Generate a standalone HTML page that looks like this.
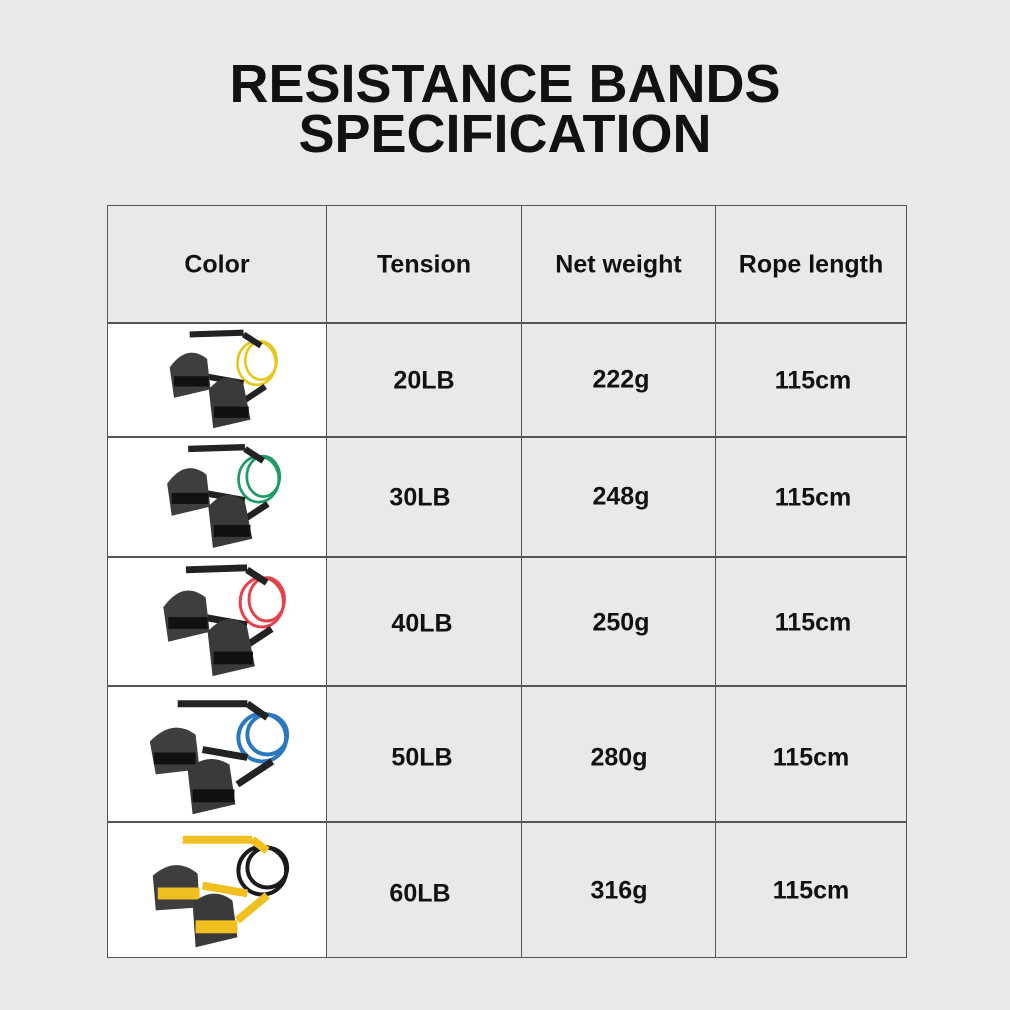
<!DOCTYPE html>
<html><head><meta charset="utf-8"><style>
body{margin:0;width:1010px;height:1010px;background:#e9e9e9;position:relative;overflow:hidden;font-family:"Liberation Sans",Arial,sans-serif;font-weight:bold;color:#111}
.t{position:absolute;left:0;width:1010px;text-align:center;font-size:54px;line-height:54px}
.h{position:absolute;background:#555}
.c{position:absolute;text-align:center;font-size:25px;transform:translateY(-50%)}
.img{position:absolute;left:108px;width:219px;background:#fff}
.img svg{width:100%;height:100%}
</style></head><body>
<div class="t" style="top:57px">RESISTANCE BANDS</div>
<div class="t" style="top:107px">SPECIFICATION</div>

<div class="img" style="top:324px;height:113px"><svg viewBox="0 0 220 130" preserveAspectRatio="xMidYMid meet"><g>
<line x1="78" y1="12" x2="140" y2="10" stroke="#222" stroke-width="7"/>
<ellipse cx="155" cy="45" rx="22" ry="25" fill="none" stroke="#e8c51a" stroke-width="3"/><ellipse cx="160" cy="42" rx="18" ry="22" fill="none" stroke="#e8c51a" stroke-width="3"/>
<path d="M140 12 L160 25 M95 60 L140 68 M130 95 L165 72" stroke="#222" stroke-width="7" fill="none"/>
<path d="M55 50 Q75 22 98 40 L102 75 L60 85 Z" fill="#3e3e3e"/><rect x="60" y="60" width="40" height="12" fill="#111"/>
<path d="M100 75 Q120 52 140 70 L148 110 L105 120 Z" fill="#3a3a3a"/><rect x="106" y="95" width="40" height="13" fill="#111"/></g></svg></div>

<div class="img" style="top:438px;height:119px"><svg viewBox="0 0 220 130" preserveAspectRatio="xMidYMid meet"><g>
<line x1="78" y1="12" x2="140" y2="10" stroke="#222" stroke-width="7"/>
<ellipse cx="155" cy="45" rx="22" ry="25" fill="none" stroke="#1e9a64" stroke-width="3"/><ellipse cx="160" cy="42" rx="18" ry="22" fill="none" stroke="#1e9a64" stroke-width="3"/>
<path d="M140 12 L160 25 M95 60 L140 68 M130 95 L165 72" stroke="#222" stroke-width="7" fill="none"/>
<path d="M55 50 Q75 22 98 40 L102 75 L60 85 Z" fill="#3e3e3e"/><rect x="60" y="60" width="40" height="12" fill="#111"/>
<path d="M100 75 Q120 52 140 70 L148 110 L105 120 Z" fill="#3a3a3a"/><rect x="106" y="95" width="40" height="13" fill="#111"/></g></svg></div>

<div class="img" style="top:558px;height:128px"><svg viewBox="0 0 220 130" preserveAspectRatio="xMidYMid meet"><g>
<line x1="78" y1="12" x2="140" y2="10" stroke="#222" stroke-width="7"/>
<ellipse cx="155" cy="45" rx="22" ry="25" fill="none" stroke="#e8404a" stroke-width="3"/><ellipse cx="160" cy="42" rx="18" ry="22" fill="none" stroke="#e8404a" stroke-width="3"/>
<path d="M140 12 L160 25 M95 60 L140 68 M130 95 L165 72" stroke="#222" stroke-width="7" fill="none"/>
<path d="M55 50 Q75 22 98 40 L102 75 L60 85 Z" fill="#3e3e3e"/><rect x="60" y="60" width="40" height="12" fill="#111"/>
<path d="M100 75 Q120 52 140 70 L148 110 L105 120 Z" fill="#3a3a3a"/><rect x="106" y="95" width="40" height="13" fill="#111"/></g></svg></div>

<div class="img" style="top:687px;height:135px"><svg viewBox="0 0 220 130" preserveAspectRatio="xMidYMid meet"><g>
<line x1="70" y1="14" x2="140" y2="14" stroke="#222" stroke-width="7"/>
<ellipse cx="155" cy="48" rx="24" ry="24" fill="none" stroke="#2a78c0" stroke-width="4"/><ellipse cx="160" cy="45" rx="20" ry="20" fill="none" stroke="#2a78c0" stroke-width="4"/>
<path d="M140 14 L160 28 M95 60 L140 68 M130 95 L165 72" stroke="#222" stroke-width="7" fill="none"/>
<path d="M42 52 Q65 28 88 45 L92 80 L48 85 Z" fill="#3e3e3e"/><rect x="46" y="63" width="42" height="12" fill="#111"/>
<path d="M80 80 Q100 62 122 75 L128 115 L85 125 Z" fill="#3a3a3a"/><rect x="85" y="100" width="42" height="13" fill="#111"/></g></svg></div>

<div class="img" style="top:823px;height:135px"><svg viewBox="0 0 220 130" preserveAspectRatio="xMidYMid meet"><g>
<line x1="75" y1="14" x2="145" y2="14" stroke="#f0c020" stroke-width="8"/>
<ellipse cx="155" cy="45" rx="24" ry="24" fill="none" stroke="#1a1a1a" stroke-width="4"/><ellipse cx="160" cy="42" rx="20" ry="20" fill="none" stroke="#1a1a1a" stroke-width="4"/>
<path d="M145 14 L160 25 M95 60 L140 68 M130 95 L160 70" stroke="#f0c020" stroke-width="8" fill="none"/>
<path d="M45 50 Q68 30 90 48 L92 82 L48 85 Z" fill="#3e3e3e"/><rect x="50" y="62" width="42" height="12" fill="#f0c020"/>
<path d="M85 78 Q105 60 125 75 L130 112 L88 122 Z" fill="#3a3a3a"/><rect x="88" y="95" width="42" height="13" fill="#f0c020"/></g></svg></div>

<!-- grid lines -->
<div class="h" style="left:107px;top:205px;width:800px;height:1px"></div>
<div class="h" style="left:107px;top:322px;width:800px;height:2px"></div>
<div class="h" style="left:107px;top:436px;width:800px;height:2px"></div>
<div class="h" style="left:107px;top:556px;width:800px;height:2px"></div>
<div class="h" style="left:107px;top:685px;width:800px;height:2px"></div>
<div class="h" style="left:107px;top:821px;width:800px;height:2px"></div>
<div class="h" style="left:107px;top:957px;width:800px;height:1px"></div>
<div class="h" style="left:107px;top:205px;width:1px;height:753px"></div>
<div class="h" style="left:326px;top:205px;width:1px;height:753px"></div>
<div class="h" style="left:521px;top:205px;width:1px;height:753px"></div>
<div class="h" style="left:715px;top:205px;width:1px;height:753px"></div>
<div class="h" style="left:906px;top:205px;width:1px;height:753px"></div>

<div class="c" style="left:107px;width:220px;top:265px">Color</div>
<div class="c" style="left:327px;width:194px;top:265px">Tension</div>
<div class="c" style="left:521px;width:195px;top:265px">Net weight</div>
<div class="c" style="left:716px;width:190px;top:265px">Rope length</div>

<div class="c" style="left:327px;width:194px;top:381px">20LB</div>
<div class="c" style="left:521px;width:200px;top:380px">222g</div>
<div class="c" style="left:716px;width:194px;top:381px">115cm</div>

<div class="c" style="left:327px;width:186px;top:498px">30LB</div>
<div class="c" style="left:521px;width:200px;top:497px">248g</div>
<div class="c" style="left:716px;width:194px;top:498px">115cm</div>

<div class="c" style="left:327px;width:190px;top:624px">40LB</div>
<div class="c" style="left:521px;width:200px;top:623px">250g</div>
<div class="c" style="left:716px;width:194px;top:623px">115cm</div>

<div class="c" style="left:327px;width:190px;top:758px">50LB</div>
<div class="c" style="left:521px;width:196px;top:758px">280g</div>
<div class="c" style="left:716px;width:190px;top:758px">115cm</div>

<div class="c" style="left:327px;width:186px;top:894px">60LB</div>
<div class="c" style="left:521px;width:196px;top:891px">316g</div>
<div class="c" style="left:716px;width:190px;top:891px">115cm</div>
</body></html>
